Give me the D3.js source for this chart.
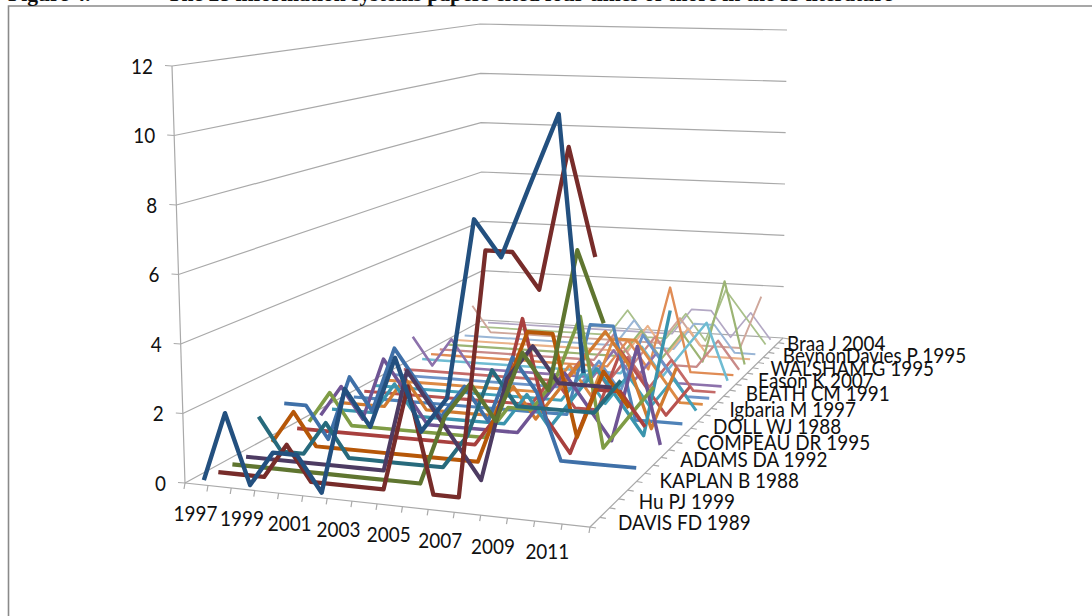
<!DOCTYPE html>
<html>
<head>
<meta charset="utf-8">
<script src="https://cdn.jsdelivr.net/npm/d3@7"></script>
<style>
  html, body { margin: 0; padding: 0; background: #fff; }
  text { font-family: Lato, "Open Sans", sans-serif; fill: #111; }
</style>
</head>
<body>
<script>
/* DATA */
var years = d3.range(1997, 2013);
var valueTicks = [0, 2, 4, 6, 8, 10, 12];
var paperLabels = ["DAVIS FD 1989", "Hu PJ 1999", "KAPLAN B 1988", "ADAMS DA 1992", "COMPEAU DR 1995", "DOLL WJ 1988",
  "Igbaria M 1997", "BEATH CM 1991", "Eason K 2007", "WALSHAM G 1995", "BeynonDavies P 1995", "Braa J 2004"];

// front to back, one row per paper
var citations = [
  [0,2,0,1,1,0,3,2,4,2,3,8,7,9,11,4],
  [0,0,0,1,0,0,0,0,3,0,0,7,7,6,10,7],
  [0,0,0,0,0,0,0,0,0,2,3,2,4,3,7,5],
  [0,0,0,0,0,0,0,3,2,1,0,3,4,3,3,3],
  [1,0,0,1,0,0,0,0,0,1,3,2,2,2,2,3],
  [0,1,0,0,0,0,0,0,0,0,2,4,4,1,3,2],
  [1,1,0,2,1,3,2,1,2,1,3,2,0,0,0,0],
  [0,0,0,0,0,0,0,0,0,1,4,1,0,2,2,1],
  [0,1,0,0,0,0,0,0,0,1,1,2,4,0,1,2],
  [0,1,0,2,1,0,0,0,0,0,1,2,1,0,3,0],
  [0,0,0,1,0,0,0,0,0,1,0,1,2,1,0,4],
  [0,0,0,1,0,0,0,0,1,0,1,2,3,2,0,2],
  [0,0,0,0,0,0,0,0,0,0,0,3,3,0,0,0],
  [0,0,0,0,0,0,0,0,0,1,0,0,2,1,0,1],
  [0,0,0,0,0,0,0,0,0,0,1,0,1,0,1,0],
  [0,0,0,0,0,0,0,0,0,1,0,2,2,1,0,0],
  [0,0,0,0,0,0,0,0,0,0,1,0,2,1,0,0],
  [0,0,0,0,0,0,0,0,0,1,0,1,0,1,0,0],
  [1,0,1,0,0,0,0,0,0,0,1,0,1,0,0,0],
  [0,0,0,0,0,0,0,0,0,0,0,1,0,1,2,0],
  [0,0,0,0,0,0,0,0,0,0,1,0,3,0,0,0],
  [0,0,0,0,0,0,0,0,0,1,0,1,0,0,1,0],
  [0,0,0,0,0,0,0,0,0,0,1,0,1,0,3,0],
  [0,0,0,0,0,0,0,0,0,0,1,0,1,0,0,0],
  [0,0,0,0,0,0,0,0,0,1,0,0,1,1,0,0],
  [1,0,0,0,0,0,0,0,0,0,0,1,0,0,0,2],
  [0,0,0,0,0,0,0,0,1,0,0,1,0,2,1,0],
  [0,0,0,0,0,0,0,0,0,0,0,1,1,0,1,0]
];

var seriesColors = ["#23507f", "#772c2a", "#5f7530", "#4d3b62", "#276a7c", "#b65708",
  "#3f70a8", "#a8403e", "#7f9c45", "#6f5494", "#3a94ad", "#d07a30",
  "#4f82b8", "#b8524f", "#43a0b8", "#dc8a44", "#6c94c8", "#c46a68",
  "#8d72ac", "#6fbcd2", "#e08c55", "#c98a88", "#9cb474", "#eab28a",
  "#9ab6d6", "#cfa79b", "#a9c08a", "#b3a8c4"];

/* CONSTANTS AND GLOBALS */
var width = 1092, height = 616;
var depth = d3.range(citations.length);

var xBand = d3.scaleBand().domain(years).range([0, 1]);
var zBand = d3.scaleBand().domain(depth).range([0, 1]);
var yScale = d3.scaleLinear().domain([0, 12]).range([0, 1]);
var lineWidth = d3.scaleLinear().domain([0, depth.length - 1]).range([4.4, 1.7]);

// perspective box, corners as [front-left, front-right, back-right, back-left]
var floorQuad = [[185, 483], [590, 527], [783, 338], [483, 320]];
var topQuad = [[172, 66], [598, 80], [787, 30], [480, 24]];

function squareToQuad(q) {
  var dx1 = q[1][0] - q[2][0], dx2 = q[3][0] - q[2][0], sx = q[0][0] - q[1][0] + q[2][0] - q[3][0];
  var dy1 = q[1][1] - q[2][1], dy2 = q[3][1] - q[2][1], sy = q[0][1] - q[1][1] + q[2][1] - q[3][1];
  var det = dx1 * dy2 - dx2 * dy1;
  var g = (sx * dy2 - dx2 * sy) / det, h = (dx1 * sy - sx * dy1) / det;
  var a = q[1][0] - q[0][0] + g * q[1][0], b = q[3][0] - q[0][0] + h * q[3][0];
  var d = q[1][1] - q[0][1] + g * q[1][1], e = q[3][1] - q[0][1] + h * q[3][1];
  return function(u, v) {
    var w = g * u + h * v + 1;
    return [(a * u + b * v + q[0][0]) / w, (d * u + e * v + q[0][1]) / w];
  };
}
var floorMap = squareToQuad(floorQuad), topMap = squareToQuad(topQuad);

// u along the years, v into the depth, t up the value axis, all 0..1
function project(u, v, t) {
  var p0 = floorMap(u, v), p1 = topMap(u, v);
  return [p0[0] + (p1[0] - p0[0]) * t, p0[1] + (p1[1] - p0[1]) * t];
}

// the reference font is narrower than Lato, so pull the glyphs in a bit
function squeeze(sel) {
  sel.attr("textLength", sel.node().getComputedTextLength() * 0.9)
    .attr("lengthAdjust", "spacingAndGlyphs");
}

var svg = d3.select("body").append("svg")
  .attr("width", width)
  .attr("height", height)
  .style("display", "block");

// page frame and the caption that is cut by the top edge
svg.append("path")
  .attr("d", "M8.5," + height + "V6H" + width)
  .attr("fill", "none")
  .attr("stroke", "#8a8a8a")
  .attr("stroke-width", 1.6);

var caption = svg.append("g")
  .style("font-weight", "bold")
  .style("font-size", "21.6px");
caption.append("text").attr("x", 8).attr("y", 1).style("font-family", "'Liberation Serif'").text("Figure 4.");
caption.append("text").attr("x", 167).attr("y", 1).style("font-family", "'Liberation Serif'")
  .text("The 28 information systems papers cited four times or more in the IS literature");

/* WALLS */
var line = d3.line();
var grid = svg.append("g")
  .attr("fill", "none")
  .attr("stroke", "#a9a9a9")
  .attr("stroke-width", 1.2);

valueTicks.forEach(function(v) {
  var t = yScale(v);
  grid.append("path").attr("d", line([project(0, 0, t), project(0, 1, t), project(1, 1, t)]));
});

/* AXES */
grid.append("path").attr("d", line([project(0, 0, 0), project(0, 0, 1)]));
grid.append("path").attr("d", line([project(0, 0, 0), project(1, 0, 0), project(1, 1, 0)]));

valueTicks.forEach(function(v) {
  var p = project(0, 0, yScale(v));
  grid.append("path").attr("d", line([[p[0] - 7, p[1] - 0.5], p]));
  svg.append("text")
    .attr("x", p[0] - 19)
    .attr("y", p[1] + 7.5)
    .attr("text-anchor", "end")
    .style("font-size", "21px")
    .text(v)
    .call(squeeze);
});

d3.range(years.length + 1).forEach(function(i) {
  var p = project(i / years.length, 0, 0);
  grid.append("path").attr("d", line([p, [p[0] - 1, p[1] + 6]]));
});
depth.concat([depth.length]).forEach(function(i) {
  var p = project(1, i / depth.length, 0);
  grid.append("path").attr("d", line([p, [p[0] + 6, p[1] + 1]]));
});

years.forEach(function(year, i) {
  if (i % 2) return;
  var p = project(xBand(year) + xBand.bandwidth() / 2, 0, 0);
  svg.append("text")
    .attr("x", p[0] - 1)
    .attr("y", p[1] + 37)
    .attr("text-anchor", "middle")
    .style("font-size", "21px")
    .text(year)
    .call(squeeze);
});

// labels bunch up toward the back of the floor
var labelY = d3.scaleLinear().domain([0, 3, 7, 11]).range([529.5, 466.5, 400.5, 350.5]);
paperLabels.forEach(function(name, i) {
  var y = labelY(i);
  svg.append("text")
    .attr("x", Math.min(618 + (529.5 - y) * 0.99, 787))
    .attr("y", y)
    .style("font-size", "21px")
    .text(name)
    .call(squeeze);
});

/* SERIES */
var seriesLine = d3.line().curve(d3.curveLinear);
// back rows first so the front rows sit on top
depth.slice().reverse().forEach(function(k) {
  var v = zBand(k) + zBand.bandwidth() / 2;
  var pts = citations[k].map(function(c, i) {
    return project(xBand(years[i]) + xBand.bandwidth() / 2, v, yScale(c));
  });
  svg.append("path")
    .attr("d", seriesLine(pts))
    .attr("fill", "none")
    .attr("stroke", seriesColors[k])
    .attr("stroke-width", lineWidth(k))
    .attr("stroke-linejoin", "round");
});
</script>
</body>
</html>
